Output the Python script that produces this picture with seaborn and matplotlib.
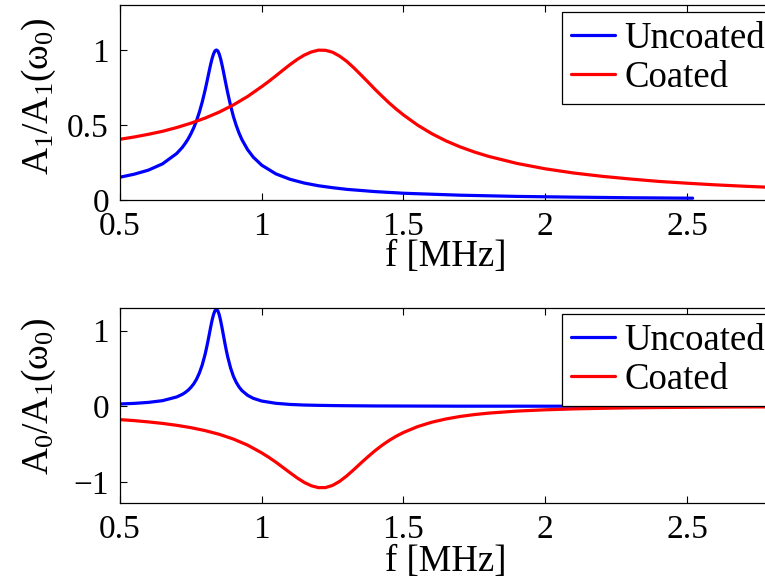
import numpy as np
import pandas as pd
import matplotlib
matplotlib.use("Agg")
import matplotlib.pyplot as plt
import seaborn as sns

# ---- data ----
f_unc = [0.50, 0.55, 0.60, 0.65, 0.70, 0.72, 0.73, 0.74, 0.75, 0.76, 0.77, 0.78,
         0.79, 0.80, 0.805, 0.81, 0.815, 0.82, 0.825, 0.83, 0.835, 0.84, 0.845,
         0.85, 0.855, 0.86, 0.865, 0.87, 0.875, 0.88, 0.89, 0.90, 0.91, 0.92,
         0.93, 0.95, 0.97, 1.00, 1.05, 1.10, 1.15, 1.20, 1.25, 1.30, 1.40, 1.50,
         1.70, 1.90, 2.10, 2.30, 2.52]
a1_unc = [0.152, 0.172, 0.199, 0.241, 0.310, 0.351, 0.377, 0.406, 0.441, 0.481,
          0.529, 0.586, 0.653, 0.731, 0.774, 0.818, 0.863, 0.906, 0.944, 0.974,
          0.994, 1.000, 0.994, 0.973, 0.941, 0.900, 0.855, 0.807, 0.760, 0.714,
          0.630, 0.557, 0.497, 0.446, 0.403, 0.336, 0.286, 0.232, 0.174, 0.138,
          0.113, 0.095, 0.082, 0.071, 0.056, 0.045, 0.032, 0.024, 0.019, 0.015,
          0.012]
f_unc0 = [0.50, 0.55, 0.60, 0.65, 0.70, 0.72, 0.73, 0.74, 0.75, 0.76, 0.77, 0.78,
          0.79, 0.80, 0.805, 0.81, 0.815, 0.82, 0.825, 0.83, 0.835, 0.84, 0.845,
          0.85, 0.855, 0.86, 0.865, 0.87, 0.875, 0.88, 0.89, 0.90, 0.91, 0.92,
          0.93, 0.95, 0.97, 1.00, 1.05, 1.10, 1.15, 1.20, 1.25, 1.30, 1.40, 1.50,
          1.70, 1.90, 2.10, 2.30, 2.52, 2.80]
a0_unc = [0.030, 0.038, 0.051, 0.074, 0.123, 0.158, 0.182, 0.211, 0.249, 0.296,
          0.358, 0.440, 0.546, 0.684, 0.767, 0.857, 0.953, 1.051, 1.141, 1.214,
          1.265, 1.280, 1.265, 1.212, 1.133, 1.037, 0.936, 0.834, 0.739, 0.653,
          0.508, 0.397, 0.316, 0.255, 0.208, 0.145, 0.105, 0.069, 0.039, 0.024,
          0.016, 0.012, 0.009, 0.007, 0.004, 0.003, 0.001, 0.001, 0.0005, 0.0003,
          0.0002, 0.0001]
f_coat = [0.50, 0.55, 0.60, 0.65, 0.70, 0.75, 0.80, 0.85, 0.90, 0.95, 1.00, 1.025,
          1.05, 1.075, 1.10, 1.125, 1.15, 1.175, 1.20, 1.225, 1.25, 1.275, 1.30,
          1.325, 1.35, 1.375, 1.40, 1.425, 1.45, 1.475, 1.50, 1.55, 1.60, 1.65,
          1.70, 1.75, 1.80, 1.90, 2.00, 2.10, 2.20, 2.30, 2.40, 2.50, 2.60, 2.70,
          2.80]
a1_coat = [0.405, 0.420, 0.438, 0.458, 0.483, 0.512, 0.546, 0.586, 0.634, 0.690,
           0.756, 0.791, 0.828, 0.866, 0.903, 0.937, 0.966, 0.987, 0.999, 0.998,
           0.985, 0.959, 0.924, 0.881, 0.834, 0.786, 0.737, 0.691, 0.646, 0.605,
           0.567, 0.499, 0.442, 0.394, 0.354, 0.320, 0.291, 0.244, 0.208, 0.180,
           0.158, 0.140, 0.124, 0.112, 0.101, 0.092, 0.084]
a0_coat = [-0.177, -0.190, -0.207, -0.227, -0.252, -0.283, -0.322, -0.371, -0.434,
           -0.514, -0.617, -0.676, -0.740, -0.810, -0.880, -0.948, -1.008, -1.052,
           -1.077, -1.076, -1.047, -0.993, -0.921, -0.838, -0.751, -0.667, -0.587,
           -0.515, -0.451, -0.395, -0.347, -0.269, -0.211, -0.168, -0.135, -0.110,
           -0.091, -0.064, -0.047, -0.035, -0.027, -0.021, -0.017, -0.014, -0.011,
           -0.009, -0.008]
series = ["Uncoated", "Coated"]
xticks = [0.5, 1, 1.5, 2, 2.5]
xticklabels = ["0.5", "1", "1.5", "2", "2.5"]

df_top = pd.concat([
    pd.DataFrame({"f": f_unc, "v": a1_unc, "s": series[0]}),
    pd.DataFrame({"f": f_coat, "v": a1_coat, "s": series[1]}),
])
df_bot = pd.concat([
    pd.DataFrame({"f": f_unc0, "v": a0_unc, "s": series[0]}),
    pd.DataFrame({"f": f_coat, "v": a0_coat, "s": series[1]}),
])

sns.set_theme(style="ticks")
plt.rcParams["font.family"] = ["Liberation Serif", "DejaVu Serif"]
plt.rcParams["mathtext.fontset"] = "custom"
plt.rcParams["mathtext.rm"] = "Liberation Serif"
plt.rcParams["mathtext.it"] = "Liberation Serif:italic"
plt.rcParams["mathtext.default"] = "regular"
for k in ["text.color", "axes.labelcolor", "xtick.color", "ytick.color", "axes.edgecolor"]:
    plt.rcParams[k] = "black"

TFS = 24
LFS = 26.5
pal = {"Uncoated": "#0000ff", "Coated": "#ff0000"}

fig = plt.figure(figsize=(7.65, 5.85), dpi=100)
ax1 = fig.add_axes([120/765, 1-200/585, 652/765, 195/585])
ax2 = fig.add_axes([120/765, 1-503/585, 652/765, 195/585])

for ax, df, ylim, yt, ylab, legtop, ylc, xly in [
    (ax1, df_top, (0, 1.3), [0, 0.5, 1], "A$_1$/A$_1$(ω$_0$)", 1-12/585, 0.53, -0.205),
    (ax2, df_bot, (-1.28, 1.3), [-1, 0, 1], "A$_0$/A$_1$(ω$_0$)", 1-314/585, 0.55, -0.215),
]:
    sns.lineplot(data=df, x="f", y="v", hue="s", palette=pal, sort=False,
                 estimator=None, linewidth=2.3, ax=ax)
    ax.set_xlim(0.5, 2.8)
    ax.set_ylim(*ylim)
    ax.set_xticks(xticks)
    ax.set_xticklabels(xticklabels)
    ax.set_yticks(yt)
    ax.set_yticklabels([("\u2212" + str(abs(v))) if v < 0 else str(v) for v in yt])
    ax.tick_params(axis="both", labelsize=TFS, direction="in", length=5, width=0.8,
                   top=True, right=True, colors="black")
    ax.tick_params(axis="x", pad=8)
    ax.tick_params(axis="y", pad=8)
    for sp in ax.spines.values():
        sp.set_visible(True)
        sp.set_linewidth(0.9)
        sp.set_color("black")
    ax.set_xlabel("f [MHz]", fontsize=LFS)
    ax.xaxis.set_label_coords(0.5, xly)
    ax.set_ylabel(ylab, fontsize=27)
    ax.yaxis.set_label_coords(-0.095, ylc)
    leg = ax.legend(loc="upper left", bbox_to_anchor=(562/765, legtop),
                    bbox_transform=fig.transFigure, fontsize=LFS, frameon=True,
                    fancybox=False, framealpha=1, edgecolor="black",
                    handlelength=1.2, handletextpad=0.25, borderpad=0.25,
                    labelspacing=0.12, borderaxespad=0)
    leg.get_frame().set_linewidth(0.9)
    for line in leg.get_lines():
        line.set_linewidth(2.3)

fig.savefig("out.png", dpi=100)
